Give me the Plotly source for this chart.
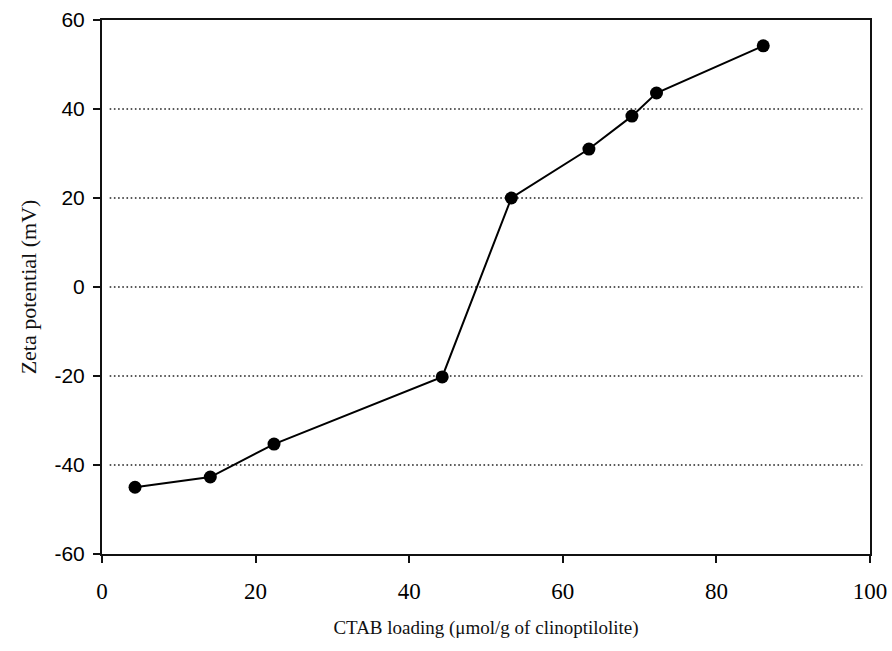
import plotly.graph_objects as go

ctab_loading = [4.3, 14.1, 22.4, 44.3, 53.3, 63.4, 69.0, 72.2, 86.1]
zeta_potential = [-45.0, -42.7, -35.3, -20.2, 20.0, 31.0, 38.4, 43.6, 54.2]

x_ticks = [0, 20, 40, 60, 80, 100]
y_ticks = [-60, -40, -20, 0, 20, 40, 60]
y_tick_labels = ["-60", "-40", "-20", "0", "20", "40", "60"]
grid_levels = [-40, -20, 0, 20, 40]

fig = go.Figure()
for g in grid_levels:
    fig.add_shape(type="line", xref="paper", yref="y", x0=0.01, x1=0.99, y0=g, y1=g,
                  line=dict(color="#222", width=1.6, dash="1.6px,2.6px"), layer="below")

fig.add_trace(go.Scatter(
    x=ctab_loading, y=zeta_potential, mode="lines+markers",
    line=dict(color="#000", width=2),
    marker=dict(color="#000", size=13),
    showlegend=False,
))

axis_common = dict(showline=True, linecolor="#111", linewidth=2, mirror=True,
                   ticks="outside", tickcolor="#111", tickwidth=2, ticklen=7,
                   showgrid=False, zeroline=False, automargin=False)

fig.update_layout(
    width=892, height=651,
    margin=dict(l=102, r=22, t=20, b=97),
    paper_bgcolor="white", plot_bgcolor="white",
    xaxis=dict(range=[0, 100], tickvals=x_ticks, ticklabelstandoff=8,
               tickfont=dict(family="Liberation Serif, Times New Roman", size=23, color="#000"),
               title=dict(text="CTAB loading (μmol/g of clinoptilolite)", standoff=18,
                          font=dict(family="Liberation Serif, Times New Roman", size=19, color="#111")),
               **axis_common),
    yaxis=dict(range=[-60, 60], tickvals=y_ticks, ticktext=y_tick_labels, ticklabelstandoff=4,
               tickfont=dict(family="Liberation Sans, Arial", size=21, color="#000"),
               title=dict(text="Zeta potential (mV)", standoff=12,
                          font=dict(family="Liberation Serif, Times New Roman", size=22, color="#111")),
               **axis_common),
)

fig.write_html("out.html")
